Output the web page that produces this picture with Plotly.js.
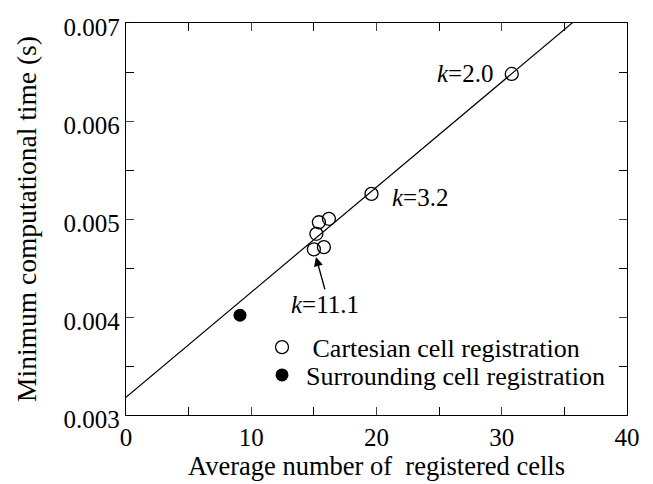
<!DOCTYPE html>
<html>
<head>
<meta charset="utf-8">
<script src="https://cdn.plot.ly/plotly-3.0.1.min.js"></script>
<style>
html,body{margin:0;padding:0;background:#fff;}
#chart{width:653px;height:484px;}
#chart text{font-family:"Liberation Serif","Times New Roman",serif !important;}
</style>
</head>
<body>
<div id="chart"></div>
<script>
// Cartesian cell registration (open circles)
const cartX = [30.8, 19.6, 15.4, 16.2, 15.2, 15.0, 15.8];
const cartY = [0.00648, 0.005256, 0.004967, 0.005002, 0.004849, 0.00469, 0.004713];
// Surrounding cell registration (filled circle)
const surrX = [9.1];
const surrY = [0.004018];
// Fitted line
const lineX = [0, 40];
const lineY = [0.00318, 0.00747];
// Labels
const labelText = ["<i>k</i>=2.0", "<i>k</i>=3.2", "<i>k</i>=11.1"];
const labelX = [30.8, 19.6, 15.0];
const labelY = [0.00648, 0.005256, 0.00469];
const legendNames = ["\u00a0Cartesian cell registration", "Surrounding cell registration"];

const SERIF = 'Liberation Serif';

const traces = [
  {x: lineX, y: lineY, mode: 'lines', line: {color: '#000', width: 1.2}, showlegend: false, hoverinfo: 'skip'},
  {x: cartX, y: cartY, mode: 'markers', name: legendNames[0], legend: 'legend',
   marker: {symbol: 'circle-open', size: 13, color: '#000', line: {width: 1.3, color: '#000'}}},
  {x: surrX, y: surrY, mode: 'markers', name: legendNames[1], legend: 'legend2',
   marker: {symbol: 'circle', size: 13, color: '#000'}}
];

const legBase = {xanchor: 'left', yanchor: 'middle', bgcolor: 'rgba(0,0,0,0)',
                 font: {family: SERIF, size: 26, color: '#000'}, itemwidth: 38};

const layout = {
  width: 653, height: 484,
  margin: {l: 126, r: 26, t: 23, b: 69},
  paper_bgcolor: '#fff', plot_bgcolor: '#fff',
  font: {family: SERIF, color: '#000', size: 24},
  showlegend: true,
  legend: Object.assign({x: 0.2635, y: 0.173}, legBase),
  legend2: Object.assign({x: 0.2635, y: 0.102}, legBase),
  xaxis: {
    range: [0, 40], dtick: 10, tick0: 0, ticks: 'inside', ticklen: 8, tickwidth: 1,
    minor: {dtick: 5, ticks: 'inside', ticklen: 8, tickwidth: 1, tickcolor: '#000'},
    showgrid: false, zeroline: false, showline: true, linecolor: '#000', linewidth: 1.3, mirror: 'ticks',
    tickfont: {family: SERIF, size: 25},
    title: {text: 'Average number of  registered cells', font: {family: SERIF, size: 26.5}, standoff: 4}
  },
  yaxis: {
    range: [0.003, 0.007], dtick: 0.001, tick0: 0.003, ticks: 'inside', ticklen: 8, tickwidth: 1,
    tickformat: '.3f', ticklabelshift: 4,
    minor: {dtick: 0.0005, ticks: 'inside', ticklen: 8, tickwidth: 1, tickcolor: '#000'},
    showgrid: false, zeroline: false, showline: true, linecolor: '#000', linewidth: 1.3, mirror: 'ticks',
    tickfont: {family: SERIF, size: 25},
    title: {text: 'Minimum computational time (s)', font: {family: SERIF, size: 27.5}, standoff: 18}
  },
  annotations: [
    {x: labelX[0], y: labelY[0], text: labelText[0], showarrow: false, xanchor: 'right', xshift: -17,
     font: {family: SERIF, size: 25}},
    {x: labelX[1], y: labelY[1], text: labelText[1], showarrow: false, xanchor: 'left', xshift: 19, yshift: -4,
     font: {family: SERIF, size: 25}},
    {x: labelX[2], y: labelY[2], text: labelText[2], showarrow: true, arrowhead: 2, arrowsize: 1.3, arrowwidth: 1.4,
     arrowcolor: '#000', ax: 11, ay: 40, standoff: 8, font: {family: SERIF, size: 25}, yanchor: 'top'}
  ]
};

Plotly.newPlot('chart', traces, layout, {displayModeBar: false, staticPlot: true});
</script>
</body>
</html>
